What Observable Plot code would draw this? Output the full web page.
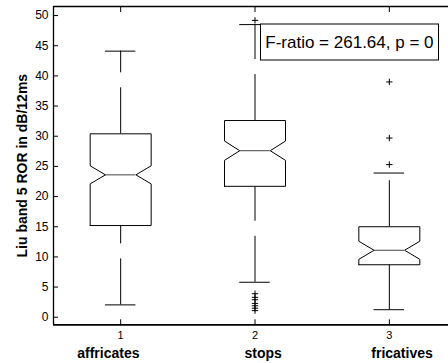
<!DOCTYPE html>
<html>
<head>
<meta charset="utf-8">
<script src="https://cdn.jsdelivr.net/npm/d3@7"></script>
<script src="https://cdn.jsdelivr.net/npm/@observablehq/plot@0.6"></script>
<style>
  html, body { margin: 0; padding: 0; background: #fff; }
  #chart svg { display: block; }
</style>
</head>
<body>
<div id="chart"></div>
<script>
// Liu band 5 ROR (dB/12ms) by manner class: notched box plot summary
const categories = ["affricates", "stops", "fricatives"];
const q1        = [15.2, 21.7, 8.7];
const median    = [23.6, 27.6, 11.1];
const q3        = [30.4, 32.6, 15.0];
const notchLo   = [22.1, 26.0, 9.6];
const notchHi   = [25.1, 29.2, 12.6];
const whiskerLo = [2.05, 5.8, 1.25];
const whiskerHi = [44.1, 48.5, 23.9];
const outliers  = [
  [],
  [49.2, 3.9, 3.3, 2.9, 2.3, 1.9, 1.5, 1.1],
  [39.0, 29.7, 25.3]
];
const yTicks = [0, 5, 10, 15, 20, 25, 30, 35, 40, 45, 50];
const xTicks = [1, 2, 3];
const statLabel = "F-ratio = 261.64, p = 0";
const yLabel = "Liu band 5 ROR in dB/12ms";

// x-axis title: the class names laid out as one spaced string
const nb = n => "\u00A0".repeat(n);
const xLabel = categories[0] + nb(27) + categories[1] + nb(23) + categories[2];

const boxes = categories.map((name, i) => ({
  name, pos: i + 1,
  q1: q1[i], median: median[i], q3: q3[i],
  nlo: notchLo[i], nhi: notchHi[i],
  lo: whiskerLo[i], hi: whiskerHi[i]
}));

const halfW = 0.227;       // half box width (x units)
const notchW = halfW / 2;  // half width at the notch waist and caps

// closed notched outline for each box
const outline = boxes.flatMap(b => [
  [b.pos - halfW, b.q1],
  [b.pos - halfW, b.nlo],
  [b.pos - notchW, b.median],
  [b.pos - halfW, b.nhi],
  [b.pos - halfW, b.q3],
  [b.pos + halfW, b.q3],
  [b.pos + halfW, b.nhi],
  [b.pos + notchW, b.median],
  [b.pos + halfW, b.nlo],
  [b.pos + halfW, b.q1],
  [b.pos - halfW, b.q1]
].map(([x, y]) => ({ name: b.name, x, y })));

const outlierPoints = categories.flatMap((name, i) =>
  outliers[i].map(v => ({ name, pos: i + 1, v })));

const font = "'Liberation Sans', Arial, Helvetica, sans-serif";
const dash = "46,15";

// framed box behind the test statistic, anchored to the top-right corner
function statBox(index, scales, values, dimensions) {
  const right = dimensions.width - dimensions.marginRight - 9.5;
  const top = dimensions.marginTop + 18;
  return d3.create("svg:rect")
    .attr("x", right - 178)
    .attr("y", top)
    .attr("width", 178)
    .attr("height", 36)
    .attr("fill", "#fff")
    .attr("stroke", "#000")
    .attr("stroke-width", 1)
    .node();
}

const chart = Plot.plot({
  width: 448,
  height: 363,
  marginLeft: 53,
  marginRight: 0,
  marginTop: 6,
  marginBottom: 38.7,
  style: { fontFamily: font, background: "#fff", color: "#000", overflow: "hidden" },
  x: { domain: [0.5, 3.5], range: [53, 456] },
  y: { domain: [-1.25, 51.5] },
  marks: [
    // whiskers
    Plot.ruleX(boxes, { x: "pos", y1: "q3", y2: "hi", stroke: "#000", strokeDasharray: dash }),
    Plot.ruleX(boxes, { x: "pos", y1: "lo", y2: "q1", stroke: "#000", strokeDasharray: dash }),
    // whisker caps
    Plot.ruleY(boxes, { y: "hi", x1: d => d.pos - notchW, x2: d => d.pos + notchW, stroke: "#000" }),
    Plot.ruleY(boxes, { y: "lo", x1: d => d.pos - notchW, x2: d => d.pos + notchW, stroke: "#000" }),
    // boxes
    Plot.line(outline, { x: "x", y: "y", z: "name", stroke: "#000", strokeWidth: 1, fill: "#fff" }),
    // medians
    Plot.ruleY(boxes, { y: "median", x1: d => d.pos - notchW, x2: d => d.pos + notchW, stroke: "#444" }),
    // outliers
    Plot.dot(outlierPoints, { x: "pos", y: "v", symbol: "plus", r: 2.2, stroke: "#000", strokeWidth: 1 }),
    // axes box
    Plot.ruleX([0.5], { stroke: "#000", strokeWidth: 1.3 }),
    Plot.ruleY([51.5], { stroke: "#000", strokeWidth: 1.3 }),
    Plot.ruleY([-1.25], { stroke: "#000", strokeWidth: 1.7 }),
    // inward ticks
    Plot.axisY(yTicks, { tickSize: -5, fill: "none", stroke: "#000", label: null }),
    Plot.axisX(xTicks, { anchor: "bottom", tickSize: -5, fill: "none", stroke: "#000", label: null }),
    Plot.axisX(xTicks, { anchor: "top", tickSize: -5, fill: "none", stroke: "#000", label: null }),
    // tick labels
    Plot.axisY(yTicks, { tickSize: 0, tickPadding: 5, fontSize: 12, label: null, fill: "#000", tickFormat: d => String(d) }),
    Plot.axisX(xTicks, { anchor: "bottom", tickSize: 0, tickPadding: 6, fontSize: 11, label: null, fill: "#000", tickFormat: d => String(d) }),
    // x-axis title
    Plot.text([xLabel], { x: () => 2, frameAnchor: "bottom", dy: 29, textAnchor: "middle", lineAnchor: "middle",
      fontWeight: "bold", fontSize: 14, fill: "#000" }),
    // y-axis title
    Plot.text([yLabel], { frameAnchor: "left", rotate: -90, dx: -31, textAnchor: "middle", lineAnchor: "middle",
      fontWeight: "bold", fontSize: 14, fill: "#000" }),
    // test statistic
    statBox,
    Plot.text([statLabel], { frameAnchor: "top-right", dx: -15, dy: 36, textAnchor: "end", lineAnchor: "middle",
      fontSize: 17, fill: "#000" })
  ]
});

document.getElementById("chart").appendChild(chart);
</script>
</body>
</html>
